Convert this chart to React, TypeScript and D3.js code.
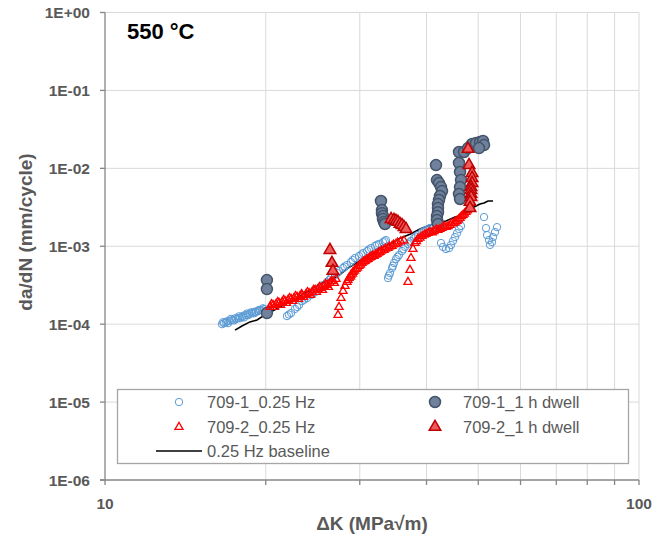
import React, { useEffect, useRef } from "react";
import * as d3 from "d3";

// axis ticks
const yTicks = [1e-6, 1e-5, 1e-4, 1e-3, 1e-2, 1e-1, 1];
const yTickLabels = ["1E-06", "1E-05", "1E-04", "1E-03", "1E-02", "1E-01", "1E+00"];
const xTicks = [10, 20, 30, 40, 50, 60, 70, 80, 90, 100];
const xTickLabels = ["10", "100"];

// 709-1, 0.25 Hz (open circles) [dK, da/dN]
const s1Hz: [number, number][] = [
  [16.56, 1.0e-4], [16.71, 1.03e-4], [16.85, 1.06e-4], [17.0, 1.03e-4], [17.14, 1.1e-4],
  [17.29, 1.13e-4], [17.44, 1.12e-4], [17.59, 1.16e-4], [17.75, 1.2e-4], [17.89, 1.19e-4],
  [18.05, 1.23e-4], [18.21, 1.22e-4], [18.37, 1.31e-4], [18.52, 1.3e-4], [18.68, 1.35e-4],
  [18.85, 1.39e-4], [19.01, 1.38e-4], [19.17, 1.43e-4], [19.34, 1.47e-4], [19.51, 1.52e-4],
  [19.68, 1.51e-4], [19.85, 1.56e-4],
  [16.64, 1.06e-4], [16.93, 1.09e-4], [17.21, 1.17e-4], [17.52, 1.19e-4], [17.82, 1.26e-4],
  [18.13, 1.28e-4], [18.44, 1.37e-4], [18.76, 1.42e-4], [19.09, 1.45e-4], [19.42, 1.52e-4],
  [19.76, 1.6e-4],
  [21.92, 1.27e-4], [22.31, 1.39e-4], [22.69, 1.57e-4], [23.09, 1.76e-4], [23.39, 1.98e-4],
  [23.9, 2.16e-4], [24.31, 2.36e-4], [24.74, 2.58e-4], [25.16, 2.91e-4], [25.6, 3.18e-4],
  [26.04, 3.47e-4], [26.49, 3.91e-4], [26.96, 4.27e-4], [27.43, 4.81e-4], [27.91, 5.25e-4],
  [28.39, 5.74e-4], [28.88, 6.27e-4], [29.39, 7.05e-4], [29.9, 7.49e-4], [30.43, 8.18e-4],
  [30.96, 8.68e-4], [31.49, 9.48e-4], [32.04, 1.01e-3], [32.59, 1.07e-3], [33.15, 1.13e-3],
  [33.58, 1.2e-3],
  [22.1, 1.33e-4], [22.9, 1.66e-4], [23.6, 2.06e-4], [24.5, 2.47e-4], [25.4, 3.04e-4],
  [26.3, 3.69e-4], [27.2, 4.54e-4], [28.1, 5.49e-4], [29.1, 6.65e-4], [30.2, 7.83e-4],
  [31.2, 9.08e-4], [32.3, 1.04e-3], [33.4, 1.16e-3],
  [33.88, 3.91e-4], [34.18, 4.53e-4], [34.48, 5.25e-4], [34.77, 6.09e-4], [35.07, 6.85e-4],
  [35.53, 7.71e-4], [35.99, 8.68e-4], [36.46, 9.81e-4], [36.93, 1.07e-3], [37.41, 1.17e-3],
  [37.9, 1.27e-3], [38.55, 1.39e-3], [39.23, 1.52e-3], [39.91, 1.61e-3], [40.61, 1.71e-3],
  [41.14, 1.76e-3],
  [34.0, 4.2e-4], [34.6, 5.6e-4], [35.3, 7.3e-4], [36.2, 9.2e-4], [37.2, 1.12e-3],
  [38.2, 1.33e-3], [39.6, 1.56e-3], [40.3, 1.66e-3],
  [42.58, 1.1e-3], [42.95, 9.81e-4], [43.51, 9.21e-4], [44.08, 9.48e-4], [44.46, 1.04e-3],
  [44.84, 1.17e-3], [45.23, 1.31e-3], [45.62, 1.47e-3], [46.02, 1.66e-3], [46.42, 1.82e-3],
  [51.26, 2.37e-3], [51.7, 1.71e-3], [51.93, 1.39e-3], [52.37, 1.2e-3], [52.6, 1.04e-3],
  [53.06, 1.13e-3], [53.29, 1.31e-3], [53.75, 1.52e-3], [54.22, 1.76e-3],
];

// 709-1, 1 h dwell (filled circles)
const s1Dwell: [number, number][] = [
  [20.1, 3.68e-4], [20.1, 2.82e-4], [20.1, 1.39e-4],
  [32.87, 3.81e-3], [33.01, 2.91e-3], [33.01, 2.66e-3], [33.15, 2.44e-3], [33.15, 2.23e-3],
  [33.3, 2.05e-3], [33.44, 1.93e-3],
  [41.67, 1.1e-2], [41.85, 7.07e-3], [42.22, 6.47e-3], [42.58, 5.75e-3], [42.77, 5.11e-3],
  [42.4, 4.41e-3], [42.22, 3.92e-3], [42.03, 3.48e-3], [42.03, 3.09e-3], [42.03, 2.74e-3],
  [41.85, 2.44e-3], [41.85, 2.17e-3], [42.03, 1.93e-3],
  [46.02, 1.62e-2], [46.02, 1.17e-2], [46.22, 8.97e-3], [46.42, 7.07e-3], [46.22, 5.75e-3],
  [46.02, 4.68e-3], [46.22, 4.04e-3], [47.03, 1.62e-2], [47.85, 1.82e-2], [48.68, 2.05e-2],
  [49.52, 2.11e-2], [50.38, 2.17e-2], [51.04, 2.24e-2], [51.26, 1.99e-2], [50.16, 1.82e-2],
];

// 709-2, 0.25 Hz (open triangles)
const s2Hz: [number, number][] = [
  [20.37, 1.66e-4], [20.64, 1.76e-4], [20.91, 1.81e-4], [21.18, 1.87e-4], [21.46, 1.92e-4],
  [21.73, 1.98e-4], [22.02, 2.04e-4], [22.31, 2.1e-4], [22.59, 2.16e-4], [22.89, 2.23e-4],
  [23.19, 2.29e-4], [23.39, 2.36e-4], [23.79, 2.43e-4], [24.11, 2.5e-4], [24.42, 2.58e-4],
  [24.74, 2.74e-4], [25.05, 2.82e-4], [25.38, 2.91e-4], [25.71, 3.09e-4], [26.04, 3.18e-4],
  [26.38, 3.37e-4], [26.72, 3.57e-4], [27.08, 3.79e-4],
  [20.5, 1.8e-4], [20.77, 1.66e-4], [21.05, 1.92e-4], [21.32, 1.76e-4], [21.6, 2.04e-4],
  [21.87, 1.87e-4], [22.16, 2.16e-4], [22.45, 1.98e-4], [22.74, 2.29e-4], [23.04, 2.1e-4],
  [23.34, 2.43e-4], [23.54, 2.23e-4], [23.94, 2.58e-4], [24.27, 2.36e-4], [24.58, 2.74e-4],
  [24.9, 2.58e-4], [25.21, 2.99e-4], [25.54, 2.74e-4], [25.88, 3.28e-4], [26.21, 3.0e-4],
  [26.55, 3.57e-4], [26.89, 3.37e-4],
  [27.31, 1.31e-4], [27.43, 1.66e-4], [27.67, 2.16e-4], [27.91, 2.66e-4], [28.15, 3.09e-4],
  [28.39, 3.47e-4], [28.64, 3.91e-4], [28.88, 4.27e-4], [29.14, 4.67e-4], [29.52, 5.1e-4],
  [29.9, 5.57e-4], [30.29, 6.09e-4], [30.69, 6.46e-4], [31.09, 6.85e-4], [31.49, 7.27e-4],
  [31.9, 7.49e-4], [32.32, 7.94e-4], [32.73, 8.43e-4], [33.3, 8.94e-4], [33.88, 9.48e-4],
  [34.48, 1.01e-3], [35.07, 1.07e-3],
  [28.5, 3.68e-4], [28.83, 4.07e-4], [29.07, 4.44e-4], [29.33, 4.86e-4], [29.71, 5.3e-4],
  [30.09, 5.79e-4], [30.49, 6.33e-4], [30.89, 6.72e-4], [31.29, 7.12e-4], [31.69, 7.56e-4],
  [32.11, 7.79e-4], [32.53, 8.26e-4], [32.94, 8.77e-4], [33.52, 9.3e-4], [34.1, 9.86e-4],
  [34.7, 1.05e-3], [35.3, 1.11e-3], [35.8, 1.15e-3], [36.3, 1.18e-3],
  [36.93, 3.47e-4], [37.25, 4.95e-4], [37.41, 7.05e-4], [37.73, 9.21e-4], [38.06, 1.1e-3],
  [38.55, 1.24e-3], [39.23, 1.35e-3], [39.91, 1.43e-3], [40.61, 1.52e-3], [41.31, 1.56e-3],
  [42.03, 1.61e-3], [42.77, 1.71e-3], [43.51, 1.76e-3], [44.27, 1.87e-3], [45.04, 1.99e-3],
  [45.62, 2.11e-3], [46.22, 2.3e-3], [46.82, 2.51e-3], [47.44, 2.74e-3], [48.05, 3.0e-3],
  [38.3, 1.16e-3], [38.9, 1.28e-3], [39.6, 1.4e-3], [40.3, 1.48e-3], [41.0, 1.5e-3],
  [41.7, 1.63e-3], [42.4, 1.66e-3], [43.1, 1.8e-3], [43.9, 1.81e-3], [44.6, 1.95e-3],
  [45.3, 2.06e-3], [45.9, 2.2e-3], [46.5, 2.42e-3], [47.1, 2.62e-3], [47.7, 2.87e-3],
];

// 709-2, 1 h dwell (filled triangles)
const s2Dwell: [number, number][] = [
  [26.38, 8.94e-4], [26.61, 6.09e-4], [26.72, 4.81e-4],
  [34.33, 2.23e-3], [34.77, 2.17e-3], [35.07, 2.11e-3], [35.37, 2.05e-3], [35.68, 1.93e-3],
  [35.99, 1.87e-3], [36.3, 1.76e-3], [36.62, 1.66e-3],
  [47.85, 1.77e-2], [48.05, 1.1e-2], [48.68, 8.7e-3], [48.68, 7.5e-3], [48.68, 6.47e-3],
  [48.47, 5.75e-3], [48.47, 5.26e-3], [48.47, 4.68e-3], [48.47, 4.28e-3], [48.26, 3.7e-3],
  [48.26, 3.09e-3],
];

// 0.25 Hz baseline (line)
const baseline: [number, number][] = [
  [17.52, 8.4e-5], [18.05, 9.46e-5], [18.68, 1.07e-4], [19.26, 1.13e-4], [19.76, 1.27e-4],
  [21.27, 1.66e-4], [23.19, 2.29e-4], [25.27, 3.28e-4], [27.31, 4.15e-4], [28.51, 5.25e-4],
  [29.77, 6.27e-4], [31.36, 7.71e-4], [33.15, 9.81e-4], [34.48, 1.1e-3], [35.68, 1.27e-3],
  [37.25, 1.43e-3], [38.89, 1.66e-3], [40.61, 1.87e-3], [42.4, 2.05e-3], [43.51, 2.11e-3],
  [44.27, 2.23e-3], [45.23, 2.37e-3], [46.22, 2.44e-3], [47.03, 2.66e-3], [47.85, 2.74e-3],
  [48.68, 3.09e-3], [49.52, 3.28e-3], [50.38, 3.48e-3], [51.26, 3.59e-3], [52.15, 3.81e-3],
  [53.29, 3.81e-3],
];

const W = 668;
const H = 536;
const FONT = "'Liberation Sans', Arial, sans-serif";
const TXT = "#595959";

const BLUE = "#5B9BD5";
const SLATE = "#6F819B";
const SLATE_DK = "#44546A";
const RED = "#FF0000";
const RED_FILL = "#EE5B5B";
const RED_DK = "#C00000";

const triOpen = d3.symbol(d3.symbolTriangle, 28)();
const triDwell = d3.symbol(d3.symbolTriangle, 58)();

const App = () => {
  const svgRef = useRef<SVGSVGElement | null>(null);

  useEffect(() => {
    const svg = d3.select(svgRef.current);
    svg.selectAll("*").remove();

    const x = d3.scaleLog().domain([10, 100]).range([105, 639]);
    const y = d3.scaleLog().domain([1e-6, 1]).range([480, 12.5]);

    const g = svg.append("g");

    // gridlines
    g.selectAll(".hgrid")
      .data(yTicks.slice(1))
      .join("line")
      .attr("x1", x(10)).attr("x2", x(100))
      .attr("y1", (d) => y(d)).attr("y2", (d) => y(d))
      .attr("stroke", "#D9D9D9").attr("stroke-width", 1);
    g.selectAll(".vgrid")
      .data(xTicks.slice(1))
      .join("line")
      .attr("x1", (d) => x(d)).attr("x2", (d) => x(d))
      .attr("y1", y(1)).attr("y2", y(1e-6))
      .attr("stroke", "#D9D9D9").attr("stroke-width", 1);

    // axes
    g.append("line")
      .attr("x1", x(10)).attr("x2", x(10)).attr("y1", y(1)).attr("y2", y(1e-6))
      .attr("stroke", "#868686").attr("stroke-width", 1.3);
    g.append("line")
      .attr("x1", x(10) - 5).attr("x2", x(100)).attr("y1", y(1e-6)).attr("y2", y(1e-6))
      .attr("stroke", "#868686").attr("stroke-width", 1.3);
    g.selectAll(".ytick")
      .data(yTicks)
      .join("line")
      .attr("x1", x(10) - 5).attr("x2", x(10))
      .attr("y1", (d) => y(d)).attr("y2", (d) => y(d))
      .attr("stroke", "#868686").attr("stroke-width", 1.3);
    g.selectAll(".xtick")
      .data(xTicks)
      .join("line")
      .attr("x1", (d) => x(d)).attr("x2", (d) => x(d))
      .attr("y1", y(1e-6)).attr("y2", y(1e-6) + 5)
      .attr("stroke", "#868686").attr("stroke-width", 1.3);

    g.selectAll(".ylab")
      .data(yTicks)
      .join("text")
      .attr("x", x(10) - 15)
      .attr("y", (d) => y(d) + 5.5)
      .attr("text-anchor", "end")
      .attr("font-family", FONT).attr("font-size", 15.5).attr("font-weight", "bold")
      .attr("fill", TXT)
      .text((d, i) => yTickLabels[i]);
    g.selectAll(".xlab")
      .data([10, 100])
      .join("text")
      .attr("x", (d) => x(d))
      .attr("y", y(1e-6) + 29)
      .attr("text-anchor", "middle")
      .attr("font-family", FONT).attr("font-size", 15.5).attr("font-weight", "bold")
      .attr("fill", TXT)
      .text((d, i) => xTickLabels[i]);

    // axis titles
    g.append("text")
      .attr("transform", "translate(32, 232) rotate(-90)")
      .attr("text-anchor", "middle")
      .attr("font-family", FONT).attr("font-size", 19).attr("font-weight", "bold")
      .attr("fill", TXT)
      .text("da/dN (mm/cycle)");
    g.append("text")
      .attr("x", (x(10) + x(100)) / 2)
      .attr("y", 530)
      .attr("text-anchor", "middle")
      .attr("font-family", FONT).attr("font-size", 19).attr("font-weight", "bold")
      .attr("fill", TXT)
      .text("ΔK (MPa√m)");

    g.append("text")
      .attr("x", 127).attr("y", 39)
      .attr("font-family", FONT).attr("font-size", 22).attr("font-weight", "bold")
      .attr("fill", "#000")
      .text("550 °C");

    // series
    const line = d3.line<[number, number]>().x((d) => x(d[0])).y((d) => y(d[1]));
    g.append("path")
      .attr("d", line(baseline))
      .attr("fill", "none").attr("stroke", "#000").attr("stroke-width", 1.6);

    g.selectAll(".s1hz")
      .data(s1Hz)
      .join("circle")
      .attr("cx", (d) => x(d[0])).attr("cy", (d) => y(d[1])).attr("r", 3.7)
      .attr("fill", "none").attr("stroke", BLUE).attr("stroke-width", 1);

    g.selectAll(".s1dw")
      .data(s1Dwell)
      .join("circle")
      .attr("cx", (d) => x(d[0])).attr("cy", (d) => y(d[1])).attr("r", 5.5)
      .attr("fill", SLATE).attr("stroke", SLATE_DK).attr("stroke-width", 1.5);

    g.selectAll(".s2hz")
      .data(s2Hz)
      .join("path")
      .attr("d", triOpen)
      .attr("transform", (d) => `translate(${x(d[0])},${y(d[1])})`)
      .attr("fill", "none").attr("stroke", RED).attr("stroke-width", 1.3);

    g.selectAll(".s2dw")
      .data(s2Dwell)
      .join("path")
      .attr("d", triDwell)
      .attr("transform", (d) => `translate(${x(d[0])},${y(d[1])})`)
      .attr("fill", RED_FILL).attr("stroke", RED_DK).attr("stroke-width", 1.5);

    // legend
    const lg = g.append("g");
    lg.append("rect")
      .attr("x", 117.5).attr("y", 389.5).attr("width", 511).attr("height", 74)
      .attr("fill", "#fff").attr("stroke", "#A6A6A6").attr("stroke-width", 1.3);
    const rows = [402, 427, 451];
    const items = [
      { col: 0, row: 0, label: "709-1_0.25 Hz", kind: "c" },
      { col: 1, row: 0, label: "709-1_1 h dwell", kind: "cd" },
      { col: 0, row: 1, label: "709-2_0.25 Hz", kind: "t" },
      { col: 1, row: 1, label: "709-2_1 h dwell", kind: "td" },
      { col: 0, row: 2, label: "0.25 Hz baseline", kind: "l" },
    ];
    items.forEach((it) => {
      const mx = it.col === 0 ? 179 : 435;
      const tx = it.col === 0 ? 207 : 463;
      const my = rows[it.row];
      if (it.kind === "c") {
        lg.append("circle").attr("cx", mx).attr("cy", my).attr("r", 3.7)
          .attr("fill", "#fff").attr("stroke", BLUE).attr("stroke-width", 1);
      } else if (it.kind === "cd") {
        lg.append("circle").attr("cx", mx).attr("cy", my).attr("r", 5.5)
          .attr("fill", SLATE).attr("stroke", SLATE_DK).attr("stroke-width", 1.5);
      } else if (it.kind === "t") {
        lg.append("path").attr("d", triOpen).attr("transform", `translate(${mx},${my})`)
          .attr("fill", "#fff").attr("stroke", RED).attr("stroke-width", 1.3);
      } else if (it.kind === "td") {
        lg.append("path").attr("d", triDwell).attr("transform", `translate(${mx},${my})`)
          .attr("fill", RED_FILL).attr("stroke", RED_DK).attr("stroke-width", 1.5);
      } else {
        lg.append("line").attr("x1", 156).attr("x2", 202).attr("y1", my).attr("y2", my)
          .attr("stroke", "#000").attr("stroke-width", 1.6);
      }
      lg.append("text")
        .attr("x", tx).attr("y", my + 6)
        .attr("font-family", FONT).attr("font-size", 16.5)
        .attr("fill", TXT)
        .text(it.label);
    });
  }, []);

  return (
    <svg
      ref={svgRef}
      width={W}
      height={H}
      style={{ position: "absolute", left: 0, top: 0, background: "#fff" }}
    />
  );
};

export default App;
